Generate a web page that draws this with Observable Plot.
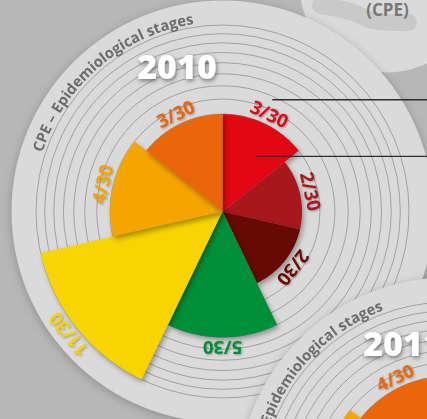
<!DOCTYPE html>
<html><head><meta charset="utf-8">
<script src="https://cdn.jsdelivr.net/npm/d3@7"></script>
<script src="https://cdn.jsdelivr.net/npm/@observablehq/plot@0.6"></script>
<style>
html,body{margin:0;padding:0;background:#b7b7b7;overflow:hidden;width:427px;height:419px}
#chart svg{display:block}
</style></head><body><div id="chart"></div>
<script>
// ---------------- data ----------------
const cases2010  = [3, 2, 2, 5, 11, 4, 3];
const labels2010 = ["3/30", "2/30", "2/30", "5/30", "11/30", "4/30", "3/30"];
// 2011: only the two slices that fall inside the crop are visible
const cases2011  = [null, null, null, null, null, 5, 4];
const labels2011 = [null, null, null, null, null, "5/30", "4/30"];
const stageColors = ["#e30613", "#a8171b", "#670a04", "#008f39", "#f8d400", "#f5a400", "#ea6608"];
const ringValues = [3, 4, 5, 6, 7, 8, 9, 10, 11];
const years = ["2010", "2011"];
const arcTitle = "CPE – Epidemiological stages";
const cornerLabel = "(CPE)";

// ---------------- layout ----------------
const W = 427, H = 419;
const rConfig = {type: "sqrt", domain: [0, 11], range: [0, 186.5]};
const rScale = Plot.scale({r: rConfig});
const nSlices = cases2010.length, step = 360 / nSlices;
const disks = [
  {year: years[0], cases: cases2010, labels: labels2010, cx: 222, cy: 211, R: 211, arc: -72},
  {year: years[1], cases: cases2011, labels: labels2011, cx: 448, cy: 488, R: 211, arc: -83.4}
];
const rad = a => a * Math.PI / 180;
const polar = (d, r, a) => ({x: d.cx + r * Math.sin(rad(a)), y: d.cy - r * Math.cos(rad(a))});

function slicePoly(d, i) {
  const v = d.cases[i], r = rScale.apply(v), a0 = i * step, a1 = (i + 1) * step;
  const pts = [{x: d.cx, y: d.cy}];
  for (let k = 0; k <= 48; k++) pts.push(polar(d, r, a0 + (a1 - a0) * k / 48));
  pts.push({x: d.cx, y: d.cy});
  return pts;
}
function sliceLabels(d) {
  return d.cases.map((v, i) => v == null ? null : {
    ...polar(d, rScale.apply(v) + 10, (i + 0.5) * step),
    text: d.labels[i], rotate: (i + 0.5) * step, color: stageColors[i]
  }).filter(Boolean);
}
// caption along the rim (render-function mark using the plot's own scales)
function rimCaption(d) {
  return (index, scales) => {
    const rb = 189, a0 = d.arc, a1 = a0 + 100;
    const p0 = polar(d, rb, a0), p1 = polar(d, rb, a1);
    const id = "arc" + d.year;
    const g = d3.create("svg:g");
    g.append("path").attr("id", id).attr("fill", "none")
      .attr("d", `M${scales.x(p0.x)},${scales.y(p0.y)} A${rb},${rb} 0 0 1 ${scales.x(p1.x)},${scales.y(p1.y)}`);
    g.append("text").attr("font-family", "Open Sans").attr("font-size", 14.8).attr("font-weight", 700)
      .attr("text-anchor", "start").attr("fill", "#6c6c6c")
      .append("textPath").attr("href", "#" + id).attr("startOffset", 0).text(arcTitle);
    return g.node();
  };
}
function diskMarks(d) {
  const slices = d.cases.map((v, i) => v == null ? null :
    Plot.line(slicePoly(d, i), {x: "x", y: "y", fill: stageColors[i], stroke: "none", curve: "linear",
      imageFilter: "drop-shadow(2px 3px 2.5px rgba(0,0,0,0.33))"})).filter(Boolean);
  return [
    Plot.dot([d], {x: "cx", y: "cy", r: d.R, fill: "#dadada", stroke: "none",
      imageFilter: "drop-shadow(0px 2px 5px rgba(0,0,0,0.22))"}),
    Plot.dot(ringValues.map(v => ({cx: d.cx, cy: d.cy, v})), {x: "cx", y: "cy", r: "v", fill: "none", stroke: "#9a9a9a", strokeWidth: 0.9}),
    ...slices,
    Plot.text(sliceLabels(d), {x: "x", y: "y", text: "text", rotate: "rotate", fill: "color",
      fontSize: 18.5, fontWeight: 700, fontFamily: "Open Sans", textAnchor: "middle", lineAnchor: "middle",
      imageFilter: "drop-shadow(1px 1px 1px rgba(0,0,0,0.3))"}),
    rimCaption(d),
    Plot.text([d], {x: e => e.cx - 45.5, y: e => e.cy - 143, text: "year", fill: "white",
      fontSize: 34, fontWeight: 800, fontFamily: "Open Sans",
      imageFilter: "drop-shadow(1px 2px 2px rgba(0,0,0,0.45))"})
  ];
}

// leader lines from the first 2010 slice towards the (cropped) legend on the right
const d0 = disks[0], rRed = rScale.apply(cases2010[0]);
const leaders = [polar(d0, rRed + 25, 24), polar(d0, rRed * 0.66, 31)];

// small top-right badge
const badge = {x: 387, y: -16, r: 88};
const blob = [{x: 320, y: 5}, {x: 350, y: 11}, {x: 372, y: 20}, {x: 408, y: 22}];

const plot = Plot.plot({
  width: W, height: H, margin: 0,
  x: {domain: [0, W], range: [0, W], axis: null},
  y: {domain: [0, H], range: [0, H], axis: null},
  r: rConfig,
  color: {type: "identity"},
  style: {background: "transparent"},
  marks: [
    Plot.dot([badge], {x: "x", y: "y", r: badge.r, fill: "#dadada", stroke: "none"}),
    Plot.line(blob, {x: "x", y: "y", stroke: "#c9c9c9", strokeWidth: 17, strokeLinecap: "round", strokeLinejoin: "round", curve: "catmull-rom"}),
    Plot.text([badge], {x: "x", y: 10, text: () => cornerLabel, fill: "#777", fontSize: 17, fontWeight: 700, fontFamily: "Open Sans"}),
    ...diskMarks(disks[0]),
    Plot.link(leaders, {x1: "x", y1: "y", x2: W, y2: "y", stroke: "#2e2e2e", strokeWidth: 1.4}),
    ...diskMarks(disks[1])
  ]
});
document.getElementById("chart").append(plot);
</script></body></html>
